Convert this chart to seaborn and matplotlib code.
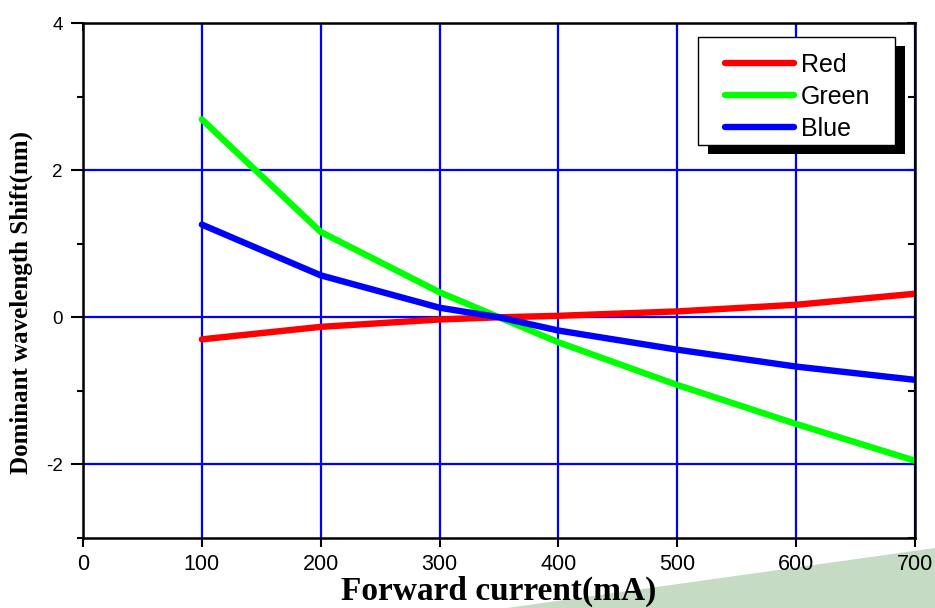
import matplotlib
matplotlib.use("Agg")
import matplotlib.pyplot as plt
import seaborn as sns
import pandas as pd
from matplotlib.patches import Polygon, Rectangle
from matplotlib.ticker import MultipleLocator

current = [100, 200, 300, 350, 400, 500, 600, 700]
red_shift = [-0.30, -0.13, -0.03, 0.0, 0.02, 0.08, 0.17, 0.32]
green_shift = [2.69, 1.16, 0.34, 0.0, -0.34, -0.92, -1.45, -1.95]
blue_shift = [1.26, 0.57, 0.13, 0.0, -0.18, -0.44, -0.67, -0.85]
series_names = ["Red", "Green", "Blue"]
x_ticks = [0, 100, 200, 300, 400, 500, 600, 700]
y_ticks = [-2, 0, 2, 4]

df = pd.concat([
    pd.DataFrame({"current": current, "shift": red_shift, "series": "Red"}),
    pd.DataFrame({"current": current, "shift": green_shift, "series": "Green"}),
    pd.DataFrame({"current": current, "shift": blue_shift, "series": "Blue"}),
])

sns.set_style("white")
plt.rcParams["font.family"] = ["Liberation Sans", "DejaVu Sans"]
plt.rcParams["axes.unicode_minus"] = False
plt.rcParams["text.color"] = "black"
plt.rcParams["axes.labelcolor"] = "black"
plt.rcParams["xtick.color"] = "black"
plt.rcParams["ytick.color"] = "black"

W, H = 935, 608
fig = plt.figure(figsize=(W / 100, H / 100), dpi=100)
fig.patch.set_facecolor("white")

# decorative background wedge
bg = Polygon([(507 / W, 0), (1, 60 / H), (1, 0)], closed=True,
             transform=fig.transFigure, facecolor="#C5DBC4", edgecolor="none", zorder=0)
fig.patches.append(bg)

ax = fig.add_axes([83 / W, 1 - 538 / H, 832 / W, 515 / H])
ax.set_zorder(1)
ax.set_facecolor("white")

palette = {"Red": "#FF0000", "Green": "#00FF00", "Blue": "#0000FF"}
sns.lineplot(data=df, x="current", y="shift", hue="series", hue_order=series_names,
             palette=palette, linewidth=4.6, ax=ax, sort=True, zorder=3,
             solid_capstyle="round")

ax.set_xlim(0, 700)
ax.set_ylim(-3, 4)
ax.set_xticks(x_ticks)
ax.set_yticks(y_ticks)
ax.yaxis.set_minor_locator(MultipleLocator(1))
ax.grid(True, which="major", color="#0000FF", linewidth=1.6, zorder=1)
ax.set_axisbelow(True)
for s in ax.spines.values():
    s.set_color("black")
    s.set_linewidth(1.8)
    s.set_zorder(4)

ax.tick_params(axis="x", which="major", direction="out", length=6.5, width=1.5,
               color="black", labelcolor="black", labelsize=15.5, pad=5, bottom=True)
ax.tick_params(axis="y", which="major", direction="out", length=8.5, width=1.5,
               color="black", labelcolor="black", labelsize=13.5, pad=6, left=True)
ax.tick_params(axis="y", which="minor", direction="out", length=4.5, width=1.5,
               color="black", left=True)

# mirrored inward ticks on top and right
secx = ax.secondary_xaxis("top")
secx.set_xticks(x_ticks)
secx.tick_params(direction="in", length=6, width=1.5, color="black", labeltop=False)
secx.spines["top"].set_visible(False)
secy = ax.secondary_yaxis("right")
secy.set_yticks(y_ticks)
secy.yaxis.set_minor_locator(MultipleLocator(1))
secy.tick_params(which="major", direction="in", length=6, width=1.5, color="black",
                 labelright=False)
secy.tick_params(which="minor", direction="in", length=5, width=1.5, color="black",
                 labelright=False)
secy.spines["right"].set_visible(False)

ax.set_xlabel("Forward current(mA)", family=["Liberation Serif"], fontweight="bold",
              fontsize=24, color="black")
ax.xaxis.label.set_va("baseline")
ax.xaxis.set_label_coords((499 - 83) / 832, (538 - 600) / 515)
ax.set_ylabel("Dominant wavelength Shift(nm)", family=["Liberation Serif"],
              fontweight="bold", fontsize=18, color="black")
ax.yaxis.set_label_coords((33 - 83) / 832, (538 - 302) / 515)

# legend frame + shadow drawn manually
shadow = Rectangle((708 / W, 1 - 154 / H), 197 / W, 108 / H, transform=fig.transFigure,
                   facecolor="black", edgecolor="none", zorder=8, clip_on=False)
frame = Rectangle((698 / W, 1 - 145 / H), 197 / W, 108 / H, transform=fig.transFigure,
                  facecolor="white", edgecolor="black", linewidth=1.0, zorder=9, clip_on=False)
ax.add_patch(shadow)
ax.add_patch(frame)

leg = ax.legend(loc="upper left", bbox_to_anchor=(725 / W, 1 - 53 / H),
                bbox_transform=fig.transFigure, frameon=False,
                fontsize=18, handlelength=2.75, handletextpad=0.3, labelspacing=0.32,
                borderpad=0, borderaxespad=0)
leg.set_zorder(10)
for line in leg.get_lines():
    line.set_linewidth(4.6)
    line.set_solid_capstyle("round")
for t in leg.get_texts():
    t.set_color("black")

fig.savefig("out.png", dpi=100, facecolor="white")
